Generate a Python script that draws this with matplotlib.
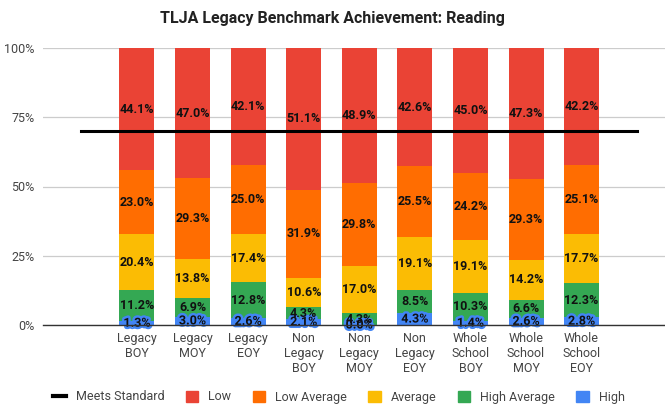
import numpy as np
import matplotlib.pyplot as plt
import matplotlib.patheffects as pe
from matplotlib.lines import Line2D
from matplotlib.patches import Patch

plt.rcParams['font.family'] = ['Roboto', 'DejaVu Sans']

categories = ["Legacy\nBOY", "Legacy\nMOY", "Legacy\nEOY",
              "Non\nLegacy\nBOY", "Non\nLegacy\nMOY", "Non\nLegacy\nEOY",
              "Whole\nSchool\nBOY", "Whole\nSchool\nMOY", "Whole\nSchool\nEOY"]

high = [1.3, 3.0, 2.6, 2.1, 0.0, 4.3, 1.4, 2.6, 2.8]
high_avg = [11.2, 6.9, 12.8, 4.3, 4.3, 8.5, 10.3, 6.6, 12.3]
average = [20.4, 13.8, 17.4, 10.6, 17.0, 19.1, 19.1, 14.2, 17.7]
low_avg = [23.0, 29.3, 25.0, 31.9, 29.8, 25.5, 24.2, 29.3, 25.1]
low = [44.1, 47.0, 42.1, 51.1, 48.9, 42.6, 45.0, 47.3, 42.2]
meets_standard = 70

series = [("High", high, "#4285F4"),
          ("High Average", high_avg, "#34A853"),
          ("Average", average, "#FBBC04"),
          ("Low Average", low_avg, "#FF6D01"),
          ("Low", low, "#EA4335")]

fig = plt.figure(figsize=(6.65, 4.08), dpi=100)
ax = fig.add_axes([43/665, 1 - 325/408, 622/665, 277/408])

x = np.arange(len(categories))
bottom = np.zeros(len(categories))
for name, vals, col in series:
    vals = np.array(vals)
    ax.bar(x, vals, 0.63, bottom=bottom, color=col, zorder=2)
    for xi, b, v in zip(x, bottom, vals):
        t = ax.text(xi, b + v / 2, f"{v:.1f}%", ha='center', va='center',
                    fontsize=9, fontweight='bold', color='#111111', zorder=4)
        if name == "High":
            # small segments get a halo in the bar colour
            t.set_path_effects([pe.withStroke(linewidth=3.5, foreground=col)])
    bottom += vals

ax.plot([-1, 9], [meets_standard, meets_standard], color='black', lw=2.2, zorder=3)

ax.set_xlim(-1.69, 9.5)
ax.set_ylim(0, 100)
ax.set_yticks([0, 25, 50, 75, 100])
ax.set_yticklabels(["0%", "25%", "50%", "75%", "100%"])
ax.set_xticks(x)
ax.set_xticklabels(categories)
ax.tick_params(axis='both', length=0, labelsize=9, colors='#444444')
ax.tick_params(axis='y', pad=6)
ax.tick_params(axis='x', pad=5)
ax.grid(axis='y', color='#cccccc', lw=0.9, zorder=0)
for s in ['top', 'right', 'left']:
    ax.spines[s].set_visible(False)
ax.spines['bottom'].set_color('#333333')
ax.spines['bottom'].set_linewidth(1)
ax.spines['bottom'].set_zorder(5)

fig.text(0.5, 1 - 18/408, "TLJA Legacy Benchmark Achievement: Reading",
         ha='center', va='center', fontsize=11.5, fontweight='bold', color='#222222')

handles = [Line2D([0], [0], color='black', lw=3)]
labels = ["Meets Standard"]
for name, vals, col in reversed(series):
    handles.append(Patch(facecolor=col, edgecolor=col))
    labels.append(name)
fig.legend(handles, labels, loc='center', bbox_to_anchor=(0.51, 1 - 397/408), ncol=6,
           frameon=False, fontsize=9, handlelength=1.0, handleheight=1.0,
           columnspacing=1.7, handletextpad=0.8, labelcolor='#444444')

fig.savefig("out.png", dpi=100)
